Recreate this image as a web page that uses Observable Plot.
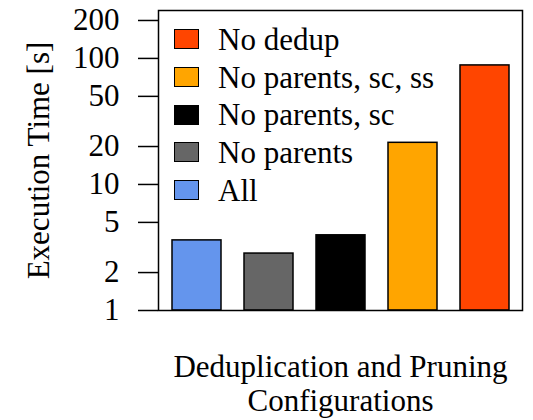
<!DOCTYPE html>
<html>
<head>
<meta charset="utf-8">
<script src="https://cdn.jsdelivr.net/npm/d3@7"></script>
<script src="https://cdn.jsdelivr.net/npm/@observablehq/plot@0.6"></script>
<style>
  html, body { margin: 0; padding: 0; background: #fff; }
  #wrap { position: relative; width: 533px; height: 420px; font-family: "Liberation Serif", "Times New Roman", serif; color: #000; }
  #legend { position: absolute; left: 174px; top: 29px; }
  .row { display: flex; align-items: center; height: 37.7px; }
  .row .sw { width: 23px; height: 18px; border: 1.5px solid #000; margin-right: 19px; margin-top: -17px; }
  .row span { font-size: 31px; line-height: 1; margin-top: -17px; }
</style>
</head>
<body>
<div id="wrap"></div>
<script>
const configs = ["All", "No parents", "No parents, sc", "No parents, sc, ss", "No dedup"];
const times = [3.6, 2.83, 3.95, 21.4, 88];
const colors = ["#6495ED", "#666666", "#000000", "#FFA500", "#FF4500"];
const yTicks = [1, 2, 5, 10, 20, 50, 100, 200];
const yLabel = "Execution Time [s]";
const xLabel = "Deduplication and Pruning\nConfigurations";

const data = configs.map((c, i) => ({config: c, time: times[i]}));

const chart = Plot.plot({
  width: 533,
  height: 420,
  marginLeft: 158,
  marginRight: 11,
  marginTop: 10,
  marginBottom: 110,
  style: {fontFamily: "Liberation Serif, Times New Roman, serif", fontSize: "31px", color: "#000", background: "#fff"},
  x: {domain: configs, axis: null, paddingInner: 0.32, paddingOuter: 0.18},
  y: {type: "log", domain: [1, 240]},
  color: {domain: configs, range: colors},
  marks: [
    Plot.barY(data, {x: "config", y1: () => 1, y2: "time", fill: "config", stroke: "#000", strokeWidth: 1.5}),
    Plot.axisY({ticks: yTicks, tickFormat: d => String(d), tickSize: 20, tickPadding: 19, strokeWidth: 1.5,
      label: yLabel, labelAnchor: "center", labelArrow: "none", labelOffset: 132, fontSize: 31, fill: "#000"}),
    Plot.frame({stroke: "#000", strokeWidth: 1.5}),
    Plot.text([xLabel], {frameAnchor: "bottom", lineAnchor: "top", dy: 43, lineHeight: 1.08, fontSize: 31, fill: "#000"})
  ]
});
const wrap = document.getElementById("wrap");
wrap.appendChild(chart);

const legend = document.createElement("div");
legend.id = "legend";
configs.slice().reverse().forEach((c) => {
  const i = configs.indexOf(c);
  const row = document.createElement("div");
  row.className = "row";
  const sw = document.createElement("div");
  sw.className = "sw";
  sw.style.background = colors[i];
  const t = document.createElement("span");
  t.textContent = c;
  row.appendChild(sw);
  row.appendChild(t);
  legend.appendChild(row);
});
wrap.appendChild(legend);
</script>
</body>
</html>
